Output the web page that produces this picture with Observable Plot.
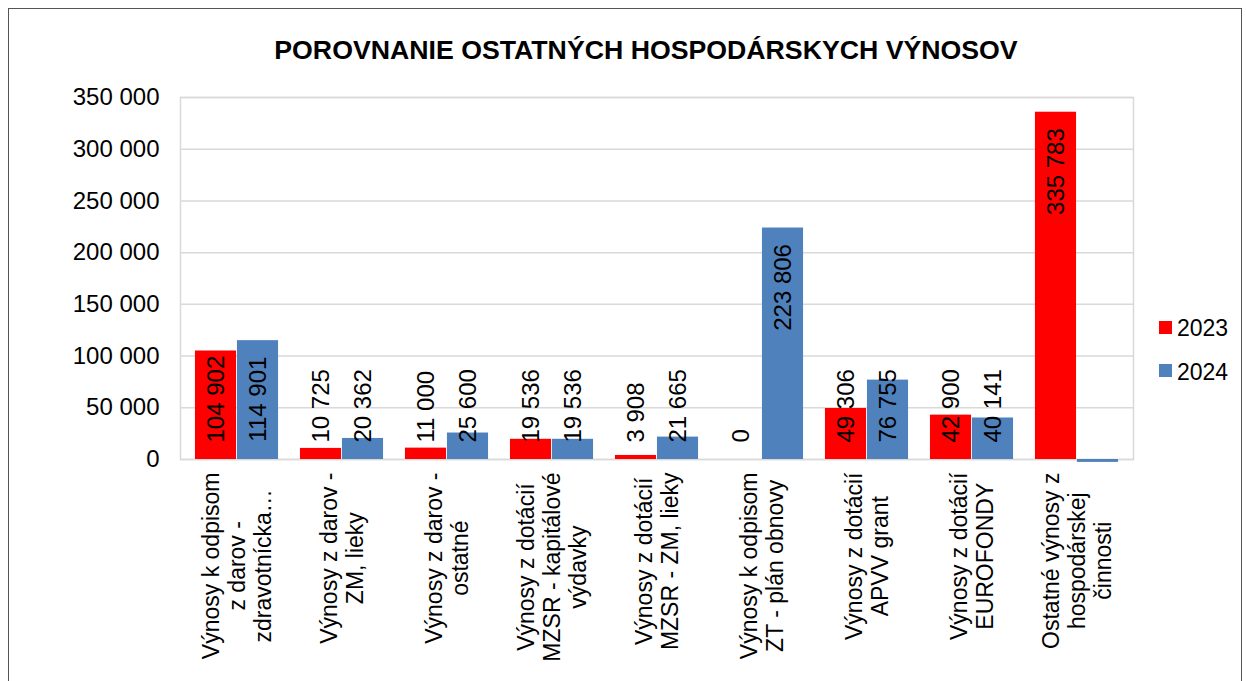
<!DOCTYPE html>
<html>
<head>
<meta charset="utf-8">
<script src="https://cdn.jsdelivr.net/npm/d3@7"></script>
<script src="https://cdn.jsdelivr.net/npm/@observablehq/plot@0.6"></script>
<style>
  html, body { margin: 0; padding: 0; background: #fff; }
  #wrap { position: relative; width: 1246px; height: 681px; overflow: hidden; font-family: "Liberation Sans", Arial, sans-serif; }
  #border { position: absolute; left: 8px; top: 8px; width: 1234px; height: 700px; border: 1.5px solid #555; box-sizing: border-box; }
  #title { position: absolute; left: 146px; width: 1000px; top: 37px; text-align: center; font-weight: bold; font-size: 26.7px; line-height: 26px; color: #000; }
  #chart { position: absolute; left: 0; top: 0; }
  #legend { position: absolute; left: 1159px; top: 0; font-size: 23px; line-height: 23px; color: #000; }
  .lg { position: absolute; white-space: nowrap; }
  .sw { position: absolute; width: 13px; height: 13px; }
</style>
</head>
<body>
<div id="wrap">
  <div id="chart"></div>
  <div id="border"></div>
  <div id="title">POROVNANIE OSTATNÝCH HOSPODÁRSKYCH VÝNOSOV</div>
  <div id="legend"></div>
</div>
<script>
// ---- data ----
const categories = [
  "Výnosy k odpisom\nz darov -\nzdravotnícka…",
  "Výnosy z darov -\nZM, lieky",
  "Výnosy z darov -\nostatné",
  "Výnosy z dotácií\nMZSR - kapitálové\nvýdavky",
  "Výnosy z dotácií\nMZSR - ZM, lieky",
  "Výnosy k odpisom\nZT - plán obnovy",
  "Výnosy z dotácií\nAPVV grant",
  "Výnosy z dotácií\nEUROFONDY",
  "Ostatné výnosy z\nhospodárskej\nčinnosti"
];
const seriesNames = ["2023", "2024"];
const values2023 = [104902, 10725, 11000, 19536, 3908, 0, 49306, 42900, 335783];
const values2024 = [114901, 20362, 25600, 19536, 21665, 223806, 76755, 40141, -2800];
const showLabel2024 = [true, true, true, true, true, true, true, true, false];
const colors = ["#ff0000", "#4f81bd"];
const yTicks = [0, 50000, 100000, 150000, 200000, 250000, 300000, 350000];

// ---- layout ----
const W = 1246, H = 681;
const mL = 180, mR = 113, mT = 97, mB = 222;
const yMax = 350000;
const plotH = H - mT - mB;
const k = yMax / plotH; // data units per pixel
const bw = (W - mL - mR) / categories.length;
const barW = 42;
const gap = (bw - 2 * barW) / 2;

const fmt = v => d3.format(",")(v).replace(/,/g, " ");
const ctx = document.createElement("canvas").getContext("2d");
function measure(t, size) { ctx.font = size + "px 'Liberation Sans'"; return ctx.measureText(t).width; }

function labelRows(vals, show) {
  return vals.map((v, i) => {
    const txt = fmt(v);
    const w = measure(txt, 24);
    const topPx = plotH - v / k; // relative to plot top
    const fits = (topPx + 16 + w) <= plotH - 17;
    return { cat: categories[i], value: v, text: txt, fits, yEnd: v - 16 * k, yStart: 17 * k, show: show ? show[i] : true };
  }).filter(d => d.show);
}
const rows2023 = values2023.map((v, i) => ({ cat: categories[i], value: v }));
const rows2024 = values2024.map((v, i) => ({ cat: categories[i], value: v }));
const lab2023 = labelRows(values2023);
const lab2024 = labelRows(values2024, showLabel2024);

const catRows = categories.map(c => {
  const maxW = d3.max(c.split("\n"), l => measure(l, 23));
  return { cat: c, y: -(13 + maxW / 2) * k };
});

function valueMarks(rows, dx) {
  return [
    Plot.text(rows.filter(d => d.fits), { x: "cat", y: "yEnd", text: "text", rotate: -90, textAnchor: "end", dx, fontSize: 24, fill: "#000" }),
    Plot.text(rows.filter(d => !d.fits), { x: "cat", y: "yStart", text: "text", rotate: -90, textAnchor: "start", dx, fontSize: 24, fill: "#000" })
  ];
}

const chart = Plot.plot({
  width: W, height: H,
  marginLeft: mL, marginRight: mR, marginTop: mT, marginBottom: mB,
  style: { fontFamily: "Liberation Sans, Arial, sans-serif", fontSize: "24px", background: "transparent", overflow: "visible" },
  x: { type: "band", domain: categories, padding: 0, axis: null },
  y: { domain: [0, yMax], axis: null },
  marks: [
    Plot.ruleY(yTicks, { stroke: "#d9d9d9", strokeWidth: 1.5 }),
    Plot.frame({ stroke: "#d9d9d9", strokeWidth: 1.5 }),
    Plot.axisY(yTicks, { tickSize: 0, tickPadding: 21, tickFormat: fmt, fontSize: 24, fill: "#000", label: null }),
    Plot.barY(rows2023, { x: "cat", y: "value", fill: colors[0], insetLeft: gap, insetRight: gap + barW }),
    Plot.barY(rows2024, { x: "cat", y: "value", fill: colors[1], insetLeft: gap + barW, insetRight: gap }),
    ...valueMarks(lab2023, -barW / 2),
    ...valueMarks(lab2024, barW / 2),
    Plot.text(catRows, { x: "cat", y: "y", text: "cat", rotate: -90, textAnchor: "middle", lineAnchor: "middle", lineHeight: 1.13, fontSize: 23, fill: "#000" })
  ]
});
document.getElementById("chart").appendChild(chart);

// legend
const lg = document.getElementById("legend");
seriesNames.forEach((s, i) => {
  const sw = document.createElement("div");
  sw.className = "sw";
  sw.style.background = colors[i];
  sw.style.left = "0px";
  sw.style.top = (321 + i * 43) + "px";
  lg.appendChild(sw);
  const t = document.createElement("div");
  t.className = "lg";
  t.textContent = s;
  t.style.left = "18px";
  t.style.top = (316.5 + i * 44) + "px";
  lg.appendChild(t);
});
</script>
</body>
</html>
